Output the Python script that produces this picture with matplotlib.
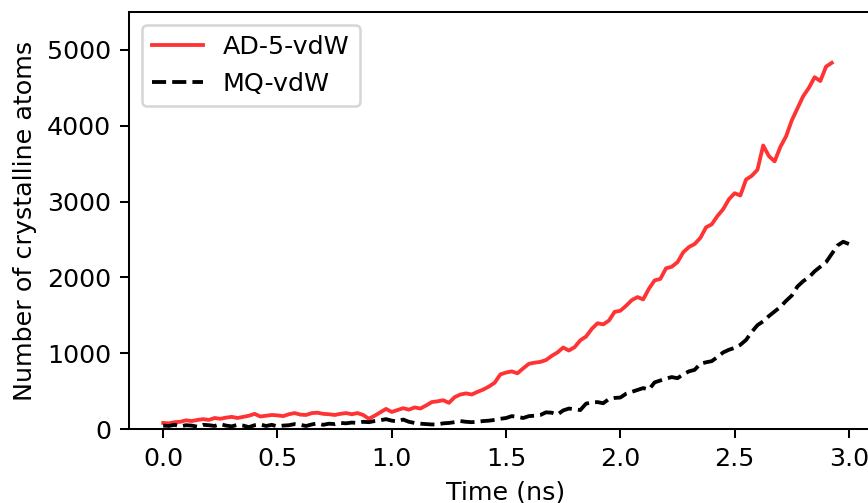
import numpy as np
import matplotlib
matplotlib.use("Agg")
import matplotlib.pyplot as plt

ad5_counts = [
    80, 75, 90, 95, 115, 105, 120, 130, 120, 145,
    135, 150, 160, 145, 160, 175, 200, 165, 175, 185,
    180, 170, 195, 210, 190, 185, 210, 215, 200, 195,
    185, 200, 210, 195, 210, 185, 135, 175, 220, 265,
    225, 250, 275, 255, 285, 270, 310, 355, 365, 380,
    345, 420, 455, 470, 455, 490, 520, 560, 610, 720,
    745, 760, 735, 800, 860, 875, 885, 910, 965, 1010,
    1075, 1035, 1080, 1170, 1220, 1320, 1395, 1380, 1430, 1545,
    1560, 1625, 1700, 1740, 1710, 1850, 1960, 1980, 2120, 2140,
    2200, 2330, 2400, 2440, 2520, 2660, 2700, 2810, 2900, 3030,
    3110, 3080, 3290, 3340, 3420, 3740, 3600, 3530, 3720, 3860,
    4070, 4230, 4390, 4500, 4640, 4590, 4780, 4830,
]
mq_counts = [
    45, 40, 55, 35, 50, 45, 30, 55, 50, 40,
    65, 45, 35, 55, 45, 25, 50, 60, 40, 55,
    35, 45, 50, 65, 55, 40, 60, 75, 55, 70,
    65, 80, 75, 85, 80, 95, 90, 105, 115, 130,
    110, 100, 125, 95, 80, 70, 65, 60, 60, 75,
    80, 90, 105, 95, 90, 95, 105, 110, 120, 135,
    145, 170, 160, 145, 170, 175, 185, 220, 215, 190,
    245, 270, 260, 250, 335, 350, 355, 340, 395, 410,
    415, 465, 490, 515, 540, 520, 615, 640, 665, 685,
    670, 720, 760, 780, 860, 880, 895, 950, 1010, 1045,
    1070, 1110, 1175, 1280, 1370, 1420, 1490, 1550, 1610, 1690,
    1760, 1880, 1950, 2000, 2080, 2140, 2200, 2310, 2420, 2470,
    2440,
]
ad5_time = np.linspace(0.0, 2.925, len(ad5_counts))
mq_time = np.linspace(0.0, 3.0, len(mq_counts))

dpi = 183
fig = plt.figure(figsize=(868 / dpi, 503 / dpi), dpi=dpi)
# the reference is cropped on the right and bottom, so the axes run past the figure edge
ax = fig.add_axes([0.1485, 0.1471, 0.869, 0.829])

ax.plot(ad5_time, ad5_counts, color="red", alpha=0.8, label="AD-5-vdW")
ax.plot(mq_time, mq_counts, color="black", linestyle="--", label="MQ-vdW")

ax.set_xlim(-0.15, 3.15)
ax.set_ylim(0, 5500)
ax.set_xticks([0.0, 0.5, 1.0, 1.5, 2.0, 2.5, 3.0])
ax.set_xlabel("Time (ns)")
ax.set_ylabel("Number of crystalline atoms")
ax.legend(loc="upper left")

fig.savefig("out.png", dpi=dpi)
